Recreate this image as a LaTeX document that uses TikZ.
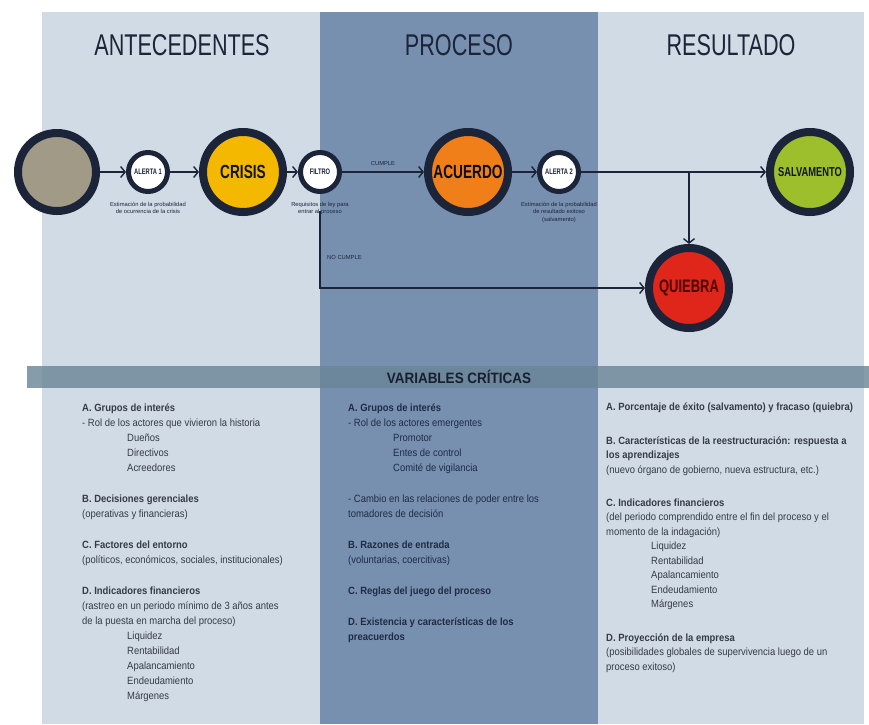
\documentclass[tikz,border=0pt]{standalone}
\usepackage{fontspec}
\setmainfont{Liberation Sans}
\newfontfamily\cond[FakeStretch=0.72]{Liberation Sans}
\newfontfamily\condb[FakeStretch=0.9]{Liberation Sans}
\usetikzlibrary{arrows.meta}
\definecolor{lightpanel}{HTML}{D0DBE6}
\definecolor{midpanel}{HTML}{7890B0}
\definecolor{bandcol}{HTML}{6A8497}
\definecolor{ink}{HTML}{1B2438}
\definecolor{greyfill}{HTML}{A09A86}
\definecolor{crisisfill}{HTML}{F5B800}
\definecolor{acuerdofill}{HTML}{F07F1A}
\definecolor{salvfill}{HTML}{9CBF2B}
\definecolor{quiebrafill}{HTML}{E0251B}
\definecolor{bodytext}{HTML}{363B45}
\definecolor{midtext}{HTML}{1F2B45}
\tikzset{
  bigc/.style={circle, draw=ink, line width=8pt, minimum size=80pt, inner sep=0pt,
     font={\cond\bfseries\fontsize{19}{19}\selectfont}},
  smallc/.style={circle, draw=ink, line width=5pt, fill=white, minimum size=39pt, inner sep=0pt,
     font={\cond\bfseries\fontsize{8}{8}\selectfont}, text=ink},
  conn/.style={draw=ink, line width=2.2pt, -{Straight Barb[length=4.5pt,width=11pt,line width=1.4pt]}},
  tiny/.style={font={\fontsize{5.8}{7.5}\selectfont}, text=ink, align=center, inner sep=0pt},
  title/.style={font={\cond\fontsize{30}{30}\selectfont}, text=ink, inner sep=0pt},
  body/.style={anchor=north west, align=left, inner sep=0pt,
     font={\condb\fontsize{10.5}{15}\selectfont}},
}
\newcommand{\ind}{\hspace*{45pt}}
\begin{document}
\begin{tikzpicture}[x=1pt,y=-1pt]
\useasboundingbox (0,0) rectangle (869,724);
\fill[white] (0,0) rectangle (869,724);
% panels
\fill[lightpanel] (42,12) rectangle (320,724);
\fill[midpanel] (320,12) rectangle (598,724);
\fill[lightpanel] (598,12) rectangle (864,724);
% band
\fill[bandcol, opacity=0.8] (27,366) rectangle (869,388);
\node[font={\condb\bfseries\fontsize{15}{15}\selectfont}, text=ink!85!black, inner sep=0pt] (vc) at (459,377) {VARIABLES CRÍTICAS};
% titles
\node[title] (t1) at (182,45) {ANTECEDENTES};
\node[title] (t2) at (459,45) {PROCESO};
\node[title] (t3) at (731,45) {RESULTADO};
% circles
\node[bigc, fill=greyfill, minimum size=78pt] (grey) at (57,172) {};
\node[smallc] (a1) at (148,172) {ALERTA 1};
\node[bigc, fill=crisisfill, text=ink!60!black] (crisis) at (243,172) {CRISIS};
\node[smallc] (filtro) at (320,172) {FILTRO};
\node[bigc, fill=acuerdofill, text=ink!40!black] (acuerdo) at (468,172) {ACUERDO};
\node[smallc] (a2) at (559,172) {ALERTA 2};
\node[bigc, fill=salvfill, text=ink!60!black, font={\cond\bfseries\fontsize{13}{13}\selectfont}] (salv) at (810,172) {SALVAMENTO};
\node[bigc, fill=quiebrafill, text=black!70!red, font={\cond\bfseries\fontsize{18}{18}\selectfont}] (quiebra) at (689,288) {QUIEBRA};
% small labels
\node[tiny, anchor=north] (l1) at (148,202) {Estimación de la probabilidad\\de ocurrencia de la crisis};
\node[tiny, anchor=north] (lf) at (320,202) {Requisitos de ley para\\entrar al proceso};
\node[tiny, anchor=north] (l2) at (559,202) {Estimación de la probabilidad\\de resultado exitoso\\(salvamento)};
% connectors
\draw[conn] (grey) -- (a1);
\draw[conn] (a1) -- (crisis);
\draw[conn] (crisis) -- (filtro);
\draw[conn] (filtro) -- node[tiny, above=5pt] (cumple) {CUMPLE} (acuerdo);
\draw[conn] (acuerdo) -- (a2);
\draw[conn] (a2) -- (salv);
\draw[conn] (quiebra.north |- a2.center) -- (quiebra);
\draw[conn] ([yshift=4pt]lf.south -| filtro) |- (quiebra);
\node[tiny, anchor=base west] (nocumple) at (327,259) {NO CUMPLE};
% body text
\node[body, text=bodytext] (colA) at (82,403.5) {%
\textbf{A. Grupos de interés}\\
- Rol de los actores que vivieron la historia\\
\ind Dueños\\
\ind Directivos\\
\ind Acreedores\\[16pt]
\textbf{B. Decisiones gerenciales}\\
(operativas y financieras)\\[16pt]
\textbf{C. Factores del entorno}\\
(políticos, económicos, sociales, institucionales)\\[16pt]
\textbf{D. Indicadores financieros}\\
(rastreo en un periodo mínimo de 3 años antes\\
de la puesta en marcha del proceso)\\
\ind Liquidez\\
\ind Rentabilidad\\
\ind Apalancamiento\\
\ind Endeudamiento\\
\ind Márgenes};
\node[body, text=midtext] (colB) at (348,403.5) {%
\textbf{A. Grupos de interés}\\
- Rol de los actores emergentes\\
\ind Promotor\\
\ind Entes de control\\
\ind Comité de vigilancia\\[16pt]
- Cambio en las relaciones de poder entre los\\
tomadores de decisión\\[16pt]
\textbf{B. Razones de entrada}\\
(voluntarias, coercitivas)\\[16pt]
\textbf{C. Reglas del juego del proceso}\\[16pt]
\textbf{D. Existencia y características de los}\\
\textbf{preacuerdos}};
\node[body, text=bodytext, font={\condb\fontsize{10.5}{14.5}\selectfont}] (colC) at (606,403) {%
\textbf{A. Porcentaje de éxito (salvamento) y fracaso (quiebra)}\\[19pt]
\textbf{B. Características de la reestructuración: respuesta a}\\
\textbf{los aprendizajes}\\
(nuevo órgano de gobierno, nueva estructura, etc.)\\[18.5pt]
\textbf{C. Indicadores financieros}\\
(del periodo comprendido entre el fin del proceso y el\\
momento de la indagación)\\
\ind Liquidez\\
\ind Rentabilidad\\
\ind Apalancamiento\\
\ind Endeudamiento\\
\ind Márgenes\\[19pt]
\textbf{D. Proyección de la empresa}\\
(posibilidades globales de supervivencia luego de un\\
proceso exitoso)};
\end{tikzpicture}
\end{document}
